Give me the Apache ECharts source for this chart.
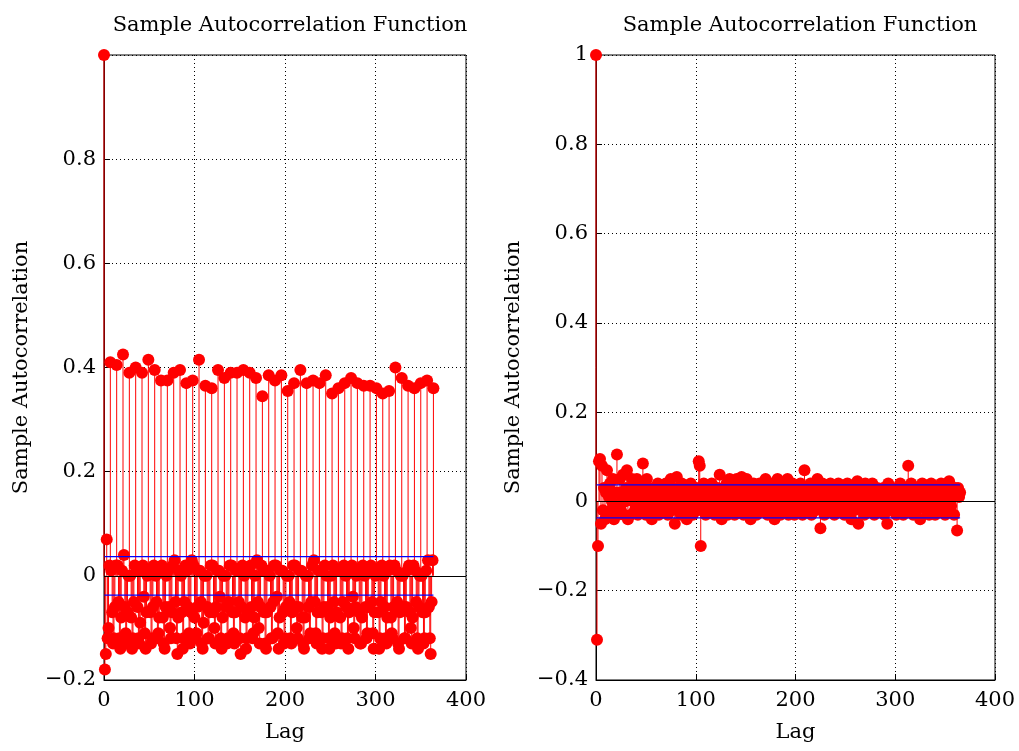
<!DOCTYPE html>
<html><head><meta charset="utf-8">
<script src="https://cdn.jsdelivr.net/npm/echarts@6/dist/echarts.min.js"></script>
<style>body{margin:0;background:#fff}#c{width:1019px;height:751px}</style>
</head><body><div id="c"></div>
<script>
// left: weekly peaks at lags 7,14,...,364
var leftPeaks = [0.41,0.405,0.425,0.39,0.40,0.39,0.415,0.395,0.375,0.375,0.39,0.395,0.37,
  0.375,0.415,0.365,0.36,0.395,0.38,0.39,0.39,0.395,0.39,0.38,0.345,0.385,0.375,0.385,
  0.355,0.37,0.395,0.37,0.375,0.37,0.385,0.35,0.36,0.37,0.38,0.37,0.365,0.365,0.36,
  0.35,0.355,0.40,0.38,0.365,0.36,0.37,0.375,0.36];
// left: lags between the peaks, one row per week (7k+1 .. 7k+6)
var leftRest = [
  [-0.18,-0.15,0.07,-0.12,-0.10,0.02],[0.01,-0.07,-0.13,-0.12,-0.06,0.02],
  [0.02,-0.05,-0.12,-0.14,-0.08,0.01],[0.04,-0.06,-0.11,-0.13,-0.07,0.00],
  [0.00,-0.08,-0.14,-0.12,-0.05,0.02],[0.01,-0.06,-0.12,-0.13,-0.09,0.01],
  [0.02,-0.04,-0.11,-0.14,-0.07,0.00],[0.01,-0.07,-0.13,-0.12,-0.06,0.02],
  [0.00,-0.05,-0.12,-0.11,-0.08,0.01],[0.02,-0.08,-0.13,-0.14,-0.06,0.00],
  [0.01,-0.06,-0.10,-0.12,-0.07,0.02],[0.03,-0.05,-0.12,-0.15,-0.08,0.01],
  [0.00,-0.07,-0.14,-0.12,-0.05,0.02],[0.01,-0.06,-0.11,-0.13,-0.07,0.03],
  [0.02,-0.08,-0.12,-0.11,-0.06,0.01],[0.01,-0.05,-0.13,-0.14,-0.09,0.00],
  [0.00,-0.06,-0.12,-0.12,-0.07,0.02],[0.02,-0.07,-0.10,-0.13,-0.06,0.01],
  [0.01,-0.04,-0.12,-0.14,-0.08,0.00],[0.00,-0.06,-0.13,-0.12,-0.05,0.02],
  [0.02,-0.07,-0.11,-0.13,-0.07,0.01],[0.01,-0.05,-0.12,-0.15,-0.06,0.02],
  [0.00,-0.08,-0.14,-0.12,-0.07,0.01],[0.02,-0.06,-0.12,-0.11,-0.08,0.00],
  [0.03,-0.05,-0.10,-0.13,-0.06,0.02],[0.01,-0.07,-0.13,-0.14,-0.07,0.01],
  [0.00,-0.06,-0.12,-0.12,-0.05,0.02],[0.02,-0.04,-0.11,-0.14,-0.08,0.01],
  [0.01,-0.07,-0.13,-0.12,-0.06,0.00],[0.00,-0.05,-0.12,-0.13,-0.07,0.02],
  [0.02,-0.06,-0.10,-0.12,-0.06,0.01],[0.01,-0.08,-0.13,-0.14,-0.08,0.00],
  [0.00,-0.06,-0.12,-0.11,-0.05,0.02],[0.03,-0.05,-0.11,-0.13,-0.07,0.01],
  [0.01,-0.07,-0.14,-0.12,-0.06,0.02],[0.00,-0.06,-0.12,-0.14,-0.08,0.00],
  [0.02,-0.05,-0.11,-0.13,-0.07,0.01],[0.01,-0.08,-0.13,-0.12,-0.05,0.02],
  [0.00,-0.06,-0.12,-0.14,-0.07,0.01],[0.02,-0.04,-0.10,-0.12,-0.06,0.00],
  [0.01,-0.07,-0.13,-0.13,-0.08,0.02],[0.00,-0.06,-0.12,-0.11,-0.06,0.01],
  [0.02,-0.05,-0.11,-0.14,-0.07,0.00],[0.01,-0.07,-0.14,-0.12,-0.05,0.02],
  [0.00,-0.06,-0.12,-0.13,-0.08,0.01],[0.02,-0.08,-0.11,-0.12,-0.06,0.02],
  [0.01,-0.05,-0.13,-0.14,-0.07,0.00],[0.00,-0.06,-0.12,-0.12,-0.06,0.01],
  [0.02,-0.07,-0.10,-0.13,-0.08,0.02],[0.01,-0.05,-0.12,-0.14,-0.06,0.00],
  [0.00,-0.07,-0.13,-0.12,-0.07,0.01],[0.03,-0.06,-0.12,-0.15,-0.05,0.03]
];
// right: lags 1..365
var rightVals = [
  -0.31,-0.10,0.09,0.095,-0.05,0.08,-0.02,0.03,-0.04,0.02,
  0.07,-0.03,0.01,0.04,-0.02,0.00,0.05,-0.04,0.02,-0.01,
  0.105,-0.03,0.02,0.05,-0.02,0.01,0.06,-0.03,0.00,0.03,
  0.07,-0.04,0.02,0.01,-0.03,0.05,0.00,0.03,-0.02,0.01,
  0.05,-0.03,0.02,0.00,0.04,-0.02,0.085,-0.01,0.02,-0.03,
  0.05,0.01,-0.02,0.03,0.00,-0.04,0.02,0.01,0.03,-0.02,
  0.00,0.04,-0.03,0.01,0.02,-0.01,0.03,0.00,-0.02,0.04,
  0.01,-0.03,0.02,0.00,0.05,-0.02,0.01,0.03,-0.05,0.02,
  0.055,-0.01,0.00,0.02,-0.03,0.04,0.01,-0.02,0.00,0.03,
  -0.04,0.01,0.02,-0.01,0.04,0.00,-0.03,0.02,0.01,0.00,
  0.03,-0.02,0.09,0.08,-0.10,0.02,-0.01,0.04,0.00,-0.03,
  0.02,0.01,-0.02,0.03,0.00,0.04,-0.01,0.02,-0.03,0.01,
  0.00,0.03,-0.02,0.06,0.01,-0.04,0.02,0.00,0.03,-0.01,
  0.04,-0.03,0.01,0.05,-0.02,0.00,0.03,0.01,-0.03,0.02,
  0.05,-0.01,0.00,0.04,-0.02,0.055,0.01,-0.03,0.02,0.00,
  0.05,-0.02,0.01,0.03,-0.04,0.00,0.02,0.04,-0.01,0.01,
  -0.03,0.02,0.00,0.04,-0.02,0.01,0.03,-0.01,0.00,0.05,
  0.02,-0.03,0.01,0.00,0.04,-0.02,0.02,0.01,-0.04,0.03,
  0.00,0.05,-0.01,0.02,-0.03,0.01,0.04,0.00,-0.02,0.03,
  0.01,0.05,-0.03,0.00,0.02,-0.01,0.04,0.01,-0.03,0.02,
  0.00,0.03,-0.02,0.01,0.04,0.00,-0.03,0.02,0.07,-0.01,
  0.03,0.01,-0.02,0.00,0.04,-0.03,0.02,0.01,0.00,-0.02,
  0.03,0.05,-0.01,0.02,-0.06,0.01,0.04,0.00,-0.03,0.02,
  0.00,0.03,-0.02,0.01,0.04,-0.01,0.02,0.00,-0.03,0.03,
  0.01,-0.02,0.04,0.00,0.02,-0.01,0.03,0.01,-0.03,0.00,
  0.02,0.04,-0.02,0.01,0.00,-0.04,0.03,0.01,-0.02,0.02,
  0.00,0.045,-0.05,0.01,0.03,-0.01,0.02,0.00,-0.03,0.04,
  0.01,-0.02,0.03,0.00,0.02,-0.01,0.04,0.01,-0.03,0.02,
  0.00,0.03,-0.02,0.01,0.02,-0.01,0.00,0.03,-0.03,0.01,
  0.02,-0.05,0.04,0.00,-0.02,0.01,0.03,-0.01,0.02,0.00,
  -0.03,0.01,0.02,-0.02,0.04,0.00,0.01,-0.03,0.02,0.00,
  0.03,-0.01,0.08,-0.02,0.01,0.04,0.00,-0.03,0.02,0.01,
  -0.02,0.03,0.00,0.01,-0.04,0.02,0.04,-0.01,0.00,0.03,
  -0.02,0.01,0.02,-0.03,0.00,0.04,-0.01,0.02,0.01,-0.03,
  0.02,0.00,0.03,-0.02,0.01,0.04,-0.01,0.00,0.02,-0.03,
  0.01,0.03,-0.02,0.045,0.00,-0.01,0.02,0.01,-0.03,0.03,
  0.02,-0.065,0.03,0.01,0.02
];
var leftBound = 0.037;
var rightBound = 0.037;

var left = [[0, 1]];
leftRest.forEach(function (row, k) {
  row.forEach(function (v, i) { left.push([7 * k + i + 1, v]); });
  left.push([7 * k + 7, leftPeaks[k]]);
});
var right = [[0, 1]];
rightVals.forEach(function (v, i) { right.push([i + 1, v]); });

var FONT = 'DejaVu Serif';
var txt = { color: '#000', fontFamily: FONT, fontSize: 21 };
function fmtY(v) {
  var s = (Math.round(v * 10) / 10).toString();
  return s.replace('-', '\u2212');
}

function panel(idx, min, showTop) {
  return {
    x: {
      gridIndex: idx, type: 'value', min: 0, max: 400, interval: 100,
      name: 'Lag', nameLocation: 'middle', nameGap: 42, nameTextStyle: txt,
      axisLine: { onZero: false, lineStyle: { color: '#000' } },
      axisTick: { inside: true, length: 6, lineStyle: { color: '#000' } },
      axisLabel: Object.assign({}, txt, { margin: 10 }),
      splitLine: { lineStyle: { color: '#000', type: [1, 3] } }
    },
    y: {
      gridIndex: idx, type: 'value', min: min, max: 1, interval: 0.2,
      name: 'Sample Autocorrelation', nameLocation: 'middle', nameGap: 72, nameTextStyle: txt,
      axisLine: { lineStyle: { color: '#000' } },
      axisTick: { inside: true, length: 6, lineStyle: { color: '#000' } },
      axisLabel: Object.assign({}, txt, {
        formatter: function (v) { return (!showTop && v === 1) ? '' : fmtY(v); }
      }),
      splitLine: { lineStyle: { color: '#000', type: [1, 3] } }
    }
  };
}
var p0 = panel(0, -0.2, false), p1 = panel(1, -0.4, true);

function seriesFor(idx, data, bound, last) {
  return [
    { type: 'bar', xAxisIndex: idx, yAxisIndex: idx, data: data, barWidth: 1,
      itemStyle: { color: '#ff0000' }, silent: true, animation: false },
    { type: 'scatter', xAxisIndex: idx, yAxisIndex: idx, data: data, symbolSize: 12,
      itemStyle: { color: '#ff0000', opacity: 1 }, animation: false, z: 3,
      markLine: { silent: true, symbol: 'none', label: { show: false },
        lineStyle: { color: '#000', type: 'solid', width: 1.2 },
        data: [{ yAxis: 0 }] } },
    { type: 'line', xAxisIndex: idx, yAxisIndex: idx, data: [[0.5, bound], [last, bound]],
      symbol: 'none', lineStyle: { color: '#0000ff', width: 1.2 }, z: 4, animation: false },
    { type: 'line', xAxisIndex: idx, yAxisIndex: idx, data: [[0.5, -bound], [last, -bound]],
      symbol: 'none', lineStyle: { color: '#0000ff', width: 1.2 }, z: 4, animation: false }
  ];
}

var chart = echarts.init(document.getElementById('c'));
var titleStyle = { color: '#000', fontFamily: FONT, fontSize: 21, fontWeight: 'normal' };
chart.setOption({
  backgroundColor: '#fff',
  title: [
    { text: 'Sample Autocorrelation Function', left: 285, top: 10, textAlign: 'center', textStyle: titleStyle },
    { text: 'Sample Autocorrelation Function', left: 795, top: 10, textAlign: 'center', textStyle: titleStyle }
  ],
  grid: [
    { left: 104, top: 55, width: 362, height: 625, show: true, borderColor: '#000', backgroundColor: 'transparent' },
    { left: 596, top: 55, width: 399, height: 625, show: true, borderColor: '#000', backgroundColor: 'transparent' }
  ],
  xAxis: [p0.x, p1.x],
  yAxis: [p0.y, p1.y],
  series: seriesFor(0, left, leftBound, 364).concat(seriesFor(1, right, rightBound, 365))
});
</script></body></html>
